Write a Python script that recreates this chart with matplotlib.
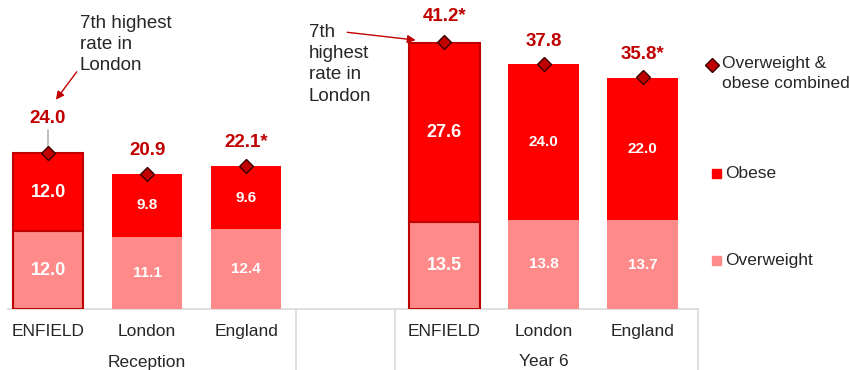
import matplotlib
matplotlib.use("Agg")
import matplotlib.pyplot as plt
from matplotlib.lines import Line2D
from matplotlib.patches import Rectangle

plt.rcParams['font.family'] = ['Liberation Sans', 'DejaVu Sans']

# ---- data ----
groups = ["Reception", "Year 6"]
areas = ["ENFIELD", "London", "England"]
overweight = [[12.0, 11.1, 12.4], [13.5, 13.8, 13.7]]
obese = [[12.0, 9.8, 9.6], [27.6, 24.0, 22.0]]
combined = [[24.0, 20.9, 22.1], [41.2, 37.8, 35.8]]
combined_labels = [["24.0", "20.9", "22.1*"], ["41.2*", "37.8", "35.8*"]]
annotation_text = ["7th highest\nrate in\nLondon", "7th\nhighest\nrate in\nLondon"]

# ---- styles ----
C_OBESE = "#FF0000"
C_OVER = "#FF8A8A"
C_DARK = "#C00000"
C_TEXT = "#262626"
C_GRID = "#D9D9D9"

W, H = 850, 370
fig = plt.figure(figsize=(W / 100, H / 100), dpi=100)
px_per_unit = 6.48
ax_left, ax_right, base_y = 8, 698, 309
ax = fig.add_axes([ax_left / W, (H - base_y) / H, (ax_right - ax_left) / W, base_y / H])
slot = 99.1
c0 = 48
ax.set_xlim((ax_left - c0) / slot, (ax_right - c0) / slot)
ax.set_ylim(0, base_y / px_per_unit)
for s in ax.spines.values():
    s.set_visible(False)
ax.set_yticks([])

width = 0.71
positions = []
ticklabels = []
for g, grp in enumerate(groups):
    for i, area in enumerate(areas):
        x = g * 4 + i
        positions.append(x)
        ticklabels.append(area)
        ow, ob, cb = overweight[g][i], obese[g][i], combined[g][i]
        is_enf = (i == 0)
        ec = C_DARK if is_enf else "none"
        lw = 1.5 if is_enf else 0
        ax.bar(x, ow, width, color=C_OVER, edgecolor=ec, linewidth=lw, zorder=2)
        ax.bar(x, ob, width, bottom=ow, color=C_OBESE, edgecolor=ec, linewidth=lw, zorder=2)
        fs_in = 13 if is_enf else 11
        ax.text(x, ow / 2, f"{ow:.1f}", ha="center", va="center", color="white",
                fontsize=fs_in, fontweight="bold", zorder=4)
        ax.text(x, ow + ob / 2, f"{ob:.1f}", ha="center", va="center", color="white",
                fontsize=fs_in, fontweight="bold", zorder=4)
        ax.plot(x, cb, marker="D", markersize=7, markerfacecolor=C_DARK,
                markeredgecolor="#3a0000", markeredgewidth=1, zorder=5, clip_on=False)
        if g == 0 and i == 0:
            off = 25
        elif g == 1 and i == 0:
            off = 18.5
        else:
            off = 16.5
        ax.annotate(combined_labels[g][i], xy=(x, cb), xytext=(0, off),
                    textcoords="offset points", ha="center", va="center",
                    color=C_DARK, fontsize=13.5, fontweight="bold", zorder=5,
                    annotation_clip=False)
        if g == 0 and i == 0:
            ax.annotate("", xy=(x, cb), xytext=(0, 17), textcoords="offset points",
                        xycoords="data",
                        arrowprops=dict(arrowstyle="-", color="#A6A6A6", lw=1,
                                        shrinkA=0, shrinkB=4))

# x axis labels
ax.set_xticks(positions)
ax.set_xticklabels(ticklabels, fontsize=12.5, color=C_TEXT)
ax.tick_params(axis="x", length=0, pad=10.5)
ax.axhline(0, color=C_GRID, lw=1.2, zorder=1, clip_on=False)
trans = ax.get_xaxis_transform()
for g, grp in enumerate(groups):
    ax.text(g * 4 + 1, -53 / base_y, grp, transform=trans, ha="center", va="center",
            fontsize=12.5, color=C_TEXT)
xmax = ax.get_xlim()[1]
for xs in [2.5, 3.5, xmax]:
    ax.add_line(Line2D([xs, xs], [0, -(H - base_y) / base_y], transform=trans,
                       color=C_GRID, lw=1.2, clip_on=False))

# annotations
ax.text(0.32, 45.4, annotation_text[0], ha="left", va="top", fontsize=13.5,
        color=C_TEXT, linespacing=1.33)
ax.annotate("", xy=(0.08, 32.3), xytext=(0.29, 36.6),
            arrowprops=dict(arrowstyle="-|>", color=C_DARK, lw=1, mutation_scale=12,
                            shrinkA=0, shrinkB=0))
ax.text(2.63, 44.0, annotation_text[1], ha="left", va="top", fontsize=13.5,
        color=C_TEXT, linespacing=1.33)
ax.annotate("", xy=(3.71, 41.5), xytext=(3.02, 42.7),
            arrowprops=dict(arrowstyle="-|>", color=C_DARK, lw=1, mutation_scale=12,
                            shrinkA=0, shrinkB=0))

# legend (manual)
def fx(px):
    return px / W

def fy(py):
    return 1 - py / H

fig.add_artist(Line2D([fx(712)], [fy(65)], marker="D", markersize=7,
                      markerfacecolor=C_DARK, markeredgecolor="#3a0000",
                      markeredgewidth=1, transform=fig.transFigure))
fig.text(fx(722), fy(56), "Overweight &\nobese combined", ha="left", va="top",
         fontsize=12.5, color=C_TEXT, linespacing=1.38)
sq = 9
fig.add_artist(Rectangle((fx(716 - sq / 2), fy(173 + sq / 2)), sq / W, sq / H,
                         color=C_OBESE, transform=fig.transFigure))
fig.text(fx(725), fy(173), "Obese", ha="left", va="center", fontsize=12.5, color=C_TEXT)
fig.add_artist(Rectangle((fx(716 - sq / 2), fy(260 + sq / 2)), sq / W, sq / H,
                         color=C_OVER, transform=fig.transFigure))
fig.text(fx(725), fy(260), "Overweight", ha="left", va="center", fontsize=12.5, color=C_TEXT)

fig.savefig("out.png", dpi=100)
